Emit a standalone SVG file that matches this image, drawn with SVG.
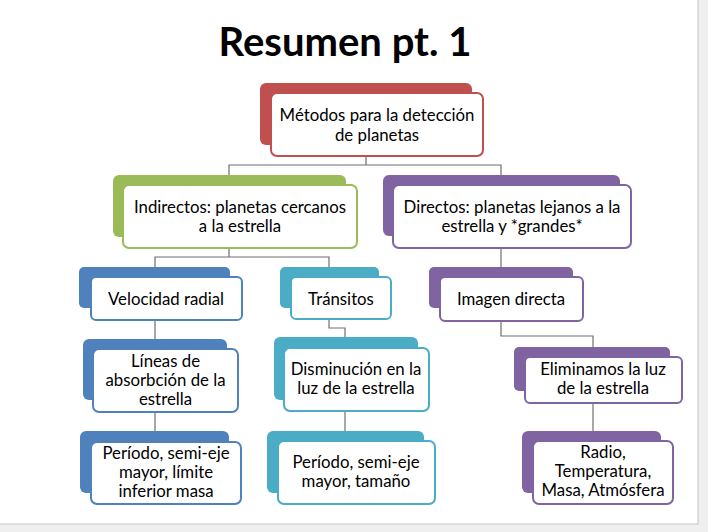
<svg xmlns="http://www.w3.org/2000/svg" width="708" height="532" viewBox="0 0 708 532">
<style>
  .t { font-family: Lato, "Noto Sans", "Liberation Sans", sans-serif; font-size: 16.8px; fill: #000; text-anchor: middle; }
  .title { font-family: Lato, "Noto Sans", "Liberation Sans", sans-serif; font-size: 40px; font-weight: bold; fill: #000; text-anchor: middle; }
  .front { fill: #fff; stroke-width: 2; }
  .conn { fill: none; stroke: #6f6f6f; stroke-width: 1.2; }
  .red .back { fill: #c0504d; } .red .front { stroke: #c0504d; }
  .green .back { fill: #9bbb59; } .green .front { stroke: #9bbb59; }
  .purple .back { fill: #8064a2; } .purple .front { stroke: #8064a2; }
  .blue .back { fill: #4f81bd; } .blue .front { stroke: #4f81bd; }
  .teal .back { fill: #4bacc6; } .teal .front { stroke: #4bacc6; }
</style>
<rect x="0" y="0" width="708" height="532" fill="#efefef"/>
<rect x="-1" y="-1" width="699" height="525" fill="#fff" stroke="#c4c4c4" stroke-width="1"/>
<text class="title" x="345" y="56">Resumen pt. 1</text>

<g id="connectors">
  <path class="conn" d="M366,156 V165 H229 V175 M366,165 H501 V175"/>
  <path class="conn" d="M229,248 V257 H155 V267 M229,257 H329 V267"/>
  <path class="conn" d="M501,248 V267"/>
  <path class="conn" d="M155,320 V339"/>
  <path class="conn" d="M155,412 V431"/>
  <path class="conn" d="M329,319 V328 H345 V337"/>
  <path class="conn" d="M345,411 V431"/>
  <path class="conn" d="M501,321 V336 H593 V347"/>
  <path class="conn" d="M593,403 V431"/>
</g>

<g id="metodos" class="red">
  <rect class="back" x="260" y="83" width="212" height="62" rx="6"/>
  <rect class="front" x="271" y="93" width="212" height="63" rx="6"/>
  <text class="t" x="377" y="121">Métodos para la detección</text>
  <text class="t" x="377" y="141">de planetas</text>
</g>

<g id="indirectos" class="green">
  <rect class="back" x="113" y="175" width="233" height="62" rx="6"/>
  <rect class="front" x="123" y="185" width="234" height="63" rx="6"/>
  <text class="t" x="240" y="213">Indirectos: planetas cercanos</text>
  <text class="t" x="240" y="232">a la estrella</text>
</g>

<g id="directos" class="purple">
  <rect class="back" x="383" y="175" width="237" height="61" rx="6"/>
  <rect class="front" x="393" y="185" width="238" height="63" rx="6"/>
  <text class="t" x="512" y="213">Directos: planetas lejanos a la</text>
  <text class="t" x="512" y="232">estrella y *grandes*</text>
</g>

<g id="velocidad" class="blue">
  <rect class="back" x="79" y="267" width="151" height="41" rx="5"/>
  <rect class="front" x="91" y="277" width="151" height="43" rx="5"/>
  <text class="t" x="166" y="305">Velocidad radial</text>
</g>

<g id="transitos" class="teal">
  <rect class="back" x="280" y="267" width="99" height="41" rx="5"/>
  <rect class="front" x="291" y="277" width="100" height="42" rx="5"/>
  <text class="t" x="341" y="305">Tránsitos</text>
</g>

<g id="imagen" class="purple">
  <rect class="back" x="429" y="267" width="144" height="41" rx="5"/>
  <rect class="front" x="440" y="277" width="143" height="44" rx="5"/>
  <text class="t" x="511" y="305">Imagen directa</text>
</g>

<g id="lineas" class="blue">
  <rect class="back" x="83" y="339" width="144" height="61" rx="6"/>
  <rect class="front" x="93" y="349" width="145" height="63" rx="6"/>
  <text class="t" x="165.5" y="367">Líneas de</text>
  <text class="t" x="165.5" y="386">absorbción de la</text>
  <text class="t" x="165.5" y="405">estrella</text>
</g>

<g id="disminucion" class="teal">
  <rect class="back" x="274" y="337" width="144" height="63" rx="6"/>
  <rect class="front" x="284" y="348" width="145" height="63" rx="6"/>
  <text class="t" x="356" y="375">Disminución en la</text>
  <text class="t" x="356" y="394">luz de la estrella</text>
</g>

<g id="eliminamos" class="purple">
  <rect class="back" x="514" y="347" width="156" height="44" rx="5"/>
  <rect class="front" x="525" y="357" width="157" height="46" rx="5"/>
  <text class="t" x="603" y="375">Eliminamos la luz</text>
  <text class="t" x="603" y="394">de la estrella</text>
</g>

<g id="periodo1" class="blue">
  <rect class="back" x="80" y="431" width="149" height="62" rx="6"/>
  <rect class="front" x="91" y="442" width="150" height="62" rx="6"/>
  <text class="t" x="166" y="459">Período, semi-eje</text>
  <text class="t" x="166" y="478">mayor, límite</text>
  <text class="t" x="166" y="497">inferior masa</text>
</g>

<g id="periodo2" class="teal">
  <rect class="back" x="267" y="431" width="157" height="62" rx="6"/>
  <rect class="front" x="278" y="441" width="157" height="63" rx="6"/>
  <text class="t" x="356" y="468">Período, semi-eje</text>
  <text class="t" x="356" y="487">mayor, tamaño</text>
</g>

<g id="radio" class="purple">
  <rect class="back" x="522" y="431" width="139" height="62" rx="6"/>
  <rect class="front" x="533" y="441" width="140" height="63" rx="6"/>
  <text class="t" x="603" y="458">Radio,</text>
  <text class="t" x="603" y="477">Temperatura,</text>
  <text class="t" x="603" y="496">Masa, Atmósfera</text>
</g>
</svg>
